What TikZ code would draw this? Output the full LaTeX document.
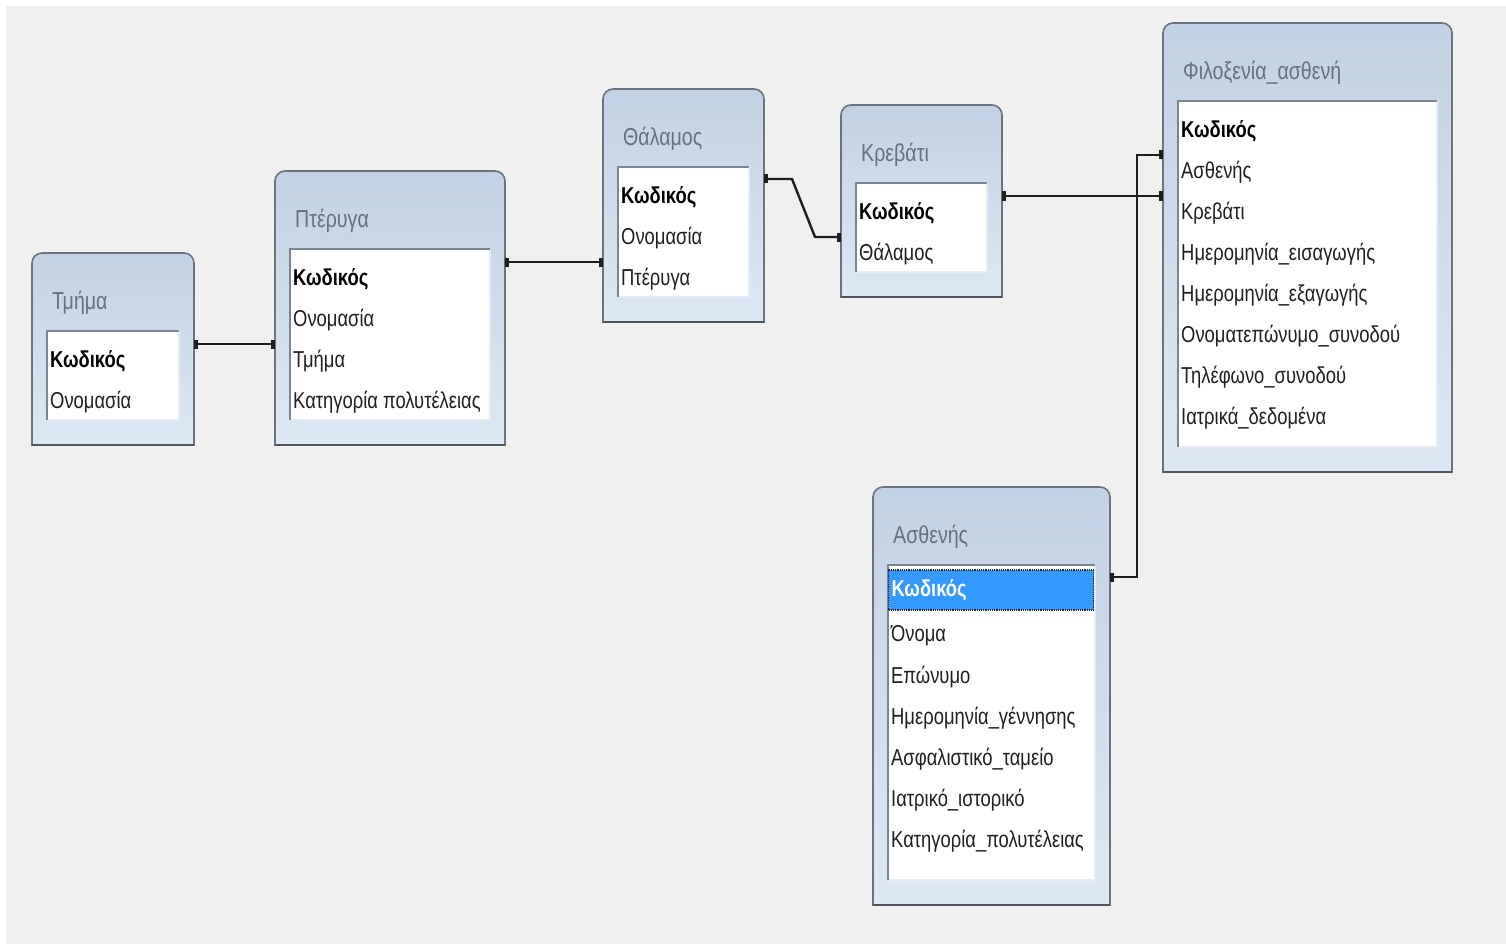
\documentclass[tikz,border=0pt]{standalone}
\usepackage{fontspec}
\setmainfont[FakeStretch=0.8]{Liberation Sans}
\usetikzlibrary{arrows.meta}

\definecolor{canvas}{HTML}{F0F0F0}
\definecolor{hdrtop}{HTML}{C2D1E3}
\definecolor{hdrbot}{HTML}{DDE8F4}
\definecolor{framecol}{HTML}{6B7380}
\definecolor{framedark}{HTML}{4E555E}
\definecolor{titlegray}{HTML}{68707F}
\definecolor{sunken}{HTML}{7C848E}
\definecolor{listedge}{HTML}{E6ECF3}
\definecolor{selblue}{HTML}{3399FF}
\definecolor{linkcol}{HTML}{1E1E1E}

\tikzset{
  tableframe/.style={draw=none, inner sep=0pt, outer sep=0pt},
  titletext/.style={text=titlegray, font=\fontsize{24.5}{28}\selectfont, inner sep=0pt, anchor=west},
  fieldrow/.style={text=black!88, font=\fontsize{23}{27}\selectfont, inner sep=0pt, anchor=west},
  keyrow/.style={fieldrow, text=black, font=\fontsize{23}{27}\selectfont\bfseries},
  keysel/.style={fieldrow, text=white, font=\fontsize{23}{27}\selectfont\bfseries,
    fill=selblue, draw=black!85, densely dotted, line width=1.2pt,
    inner xsep=3pt, minimum height=40pt, text width=199pt, align=left,
    xshift=-3pt, yshift=5pt},
  link/.style={draw=linkcol, line width=2.4pt,
    {Rectangle[length=4pt,width=9pt]}-{Rectangle[length=4pt,width=9pt]}},
}

% table: name, x, y, width, height, title, key-row style, other fields
\newcommand{\dbtable}[8]{%
  \node[tableframe, minimum width=#4pt, minimum height=#5pt, anchor=north west] (#1) at (#2,#3) {};
  \path[top color=hdrtop, bottom color=hdrbot, draw=framecol, line width=1.6pt]
    (#1.south west) -- ([yshift=-10pt]#1.north west)
    arc[start angle=180, end angle=90, radius=10pt]
    -- ([xshift=-10pt]#1.north east)
    arc[start angle=90, end angle=0, radius=10pt]
    -- (#1.south east) -- cycle;
  \draw[framedark, line width=2.6pt] (#1.south west) -- (#1.south east);
  \fill[white] (#2+15,#3+78) rectangle (#2+#4-15,#3+#5-25);
  \draw[listedge, line width=2pt] (#2+#4-15,#3+78) -- (#2+#4-15,#3+#5-25) -- (#2+15,#3+#5-25);
  \draw[sunken, line width=2pt] (#2+15,#3+#5-25) -- (#2+15,#3+78) -- (#2+#4-15,#3+78);
  \node[titletext] (#1-title) at (#2+20,#3+50) {#6};
  \node[#7] (#1-key) at (#2+18,#3+108) {Κωδικός};
  \foreach \f [count=\i] in {#8} {\node[fieldrow] (#1-row\i) at (#2+18,{#3+108+41*\i}) {\f};}
}

\begin{document}
\begin{tikzpicture}[x=1pt, y=-1pt]
  \useasboundingbox (0,0) rectangle (1506,944);
  \fill[white] (0,0) rectangle (1506,944);
  \fill[canvas] (6,6) rectangle (1506,944);

  \dbtable{tmima}{32}{253}{162}{192}{Τμήμα}{keyrow}{Ονομασία}
  \dbtable{pteryga}{275}{171}{230}{274}{Πτέρυγα}{keyrow}{Ονομασία,Τμήμα,Κατηγορία πολυτέλειας}
  \dbtable{thalamos}{603}{89}{161}{233}{Θάλαμος}{keyrow}{Ονομασία,Πτέρυγα}
  \dbtable{krevati}{841}{105}{161}{192}{Κρεβάτι}{keyrow}{Θάλαμος}
  \dbtable{filox}{1163}{23}{289}{449}{Φιλοξενία\_ασθενή}{keyrow}{Ασθενής,Κρεβάτι,Ημερομηνία\_εισαγωγής,Ημερομηνία\_εξαγωγής,Ονοματεπώνυμο\_συνοδού,Τηλέφωνο\_συνοδού,Ιατρικά\_δεδομένα}
  \dbtable{asthenis}{873}{487}{237}{418}{Ασθενής}{keysel}{Όνομα,Επώνυμο,Ημερομηνία\_γέννησης,Ασφαλιστικό\_ταμείο,Ιατρικό\_ιστορικό,Κατηγορία\_πολυτέλειας}

  % relationship bends
  \coordinate (bendA) at (792,179);
  \coordinate (bendB) at (815,237);
  \coordinate (bendC) at (1137,577);
  \coordinate (bendD) at (1137,155);

  % relationships
  \draw[link] (tmima.east |- 0,344) -- (pteryga.west |- 0,344);
  \draw[link] (pteryga.east |- 0,262) -- (thalamos.west |- 0,262);
  \draw[link] (thalamos.east |- bendA) -- (bendA) -- (bendB) -- (krevati.west |- bendB);
  \draw[link] (krevati.east |- 0,196) -- (filox.west |- 0,196);
  \draw[link] (asthenis.east |- bendC) -- (bendC) -- (bendD) -- (filox.west |- bendD);
\end{tikzpicture}
\end{document}
